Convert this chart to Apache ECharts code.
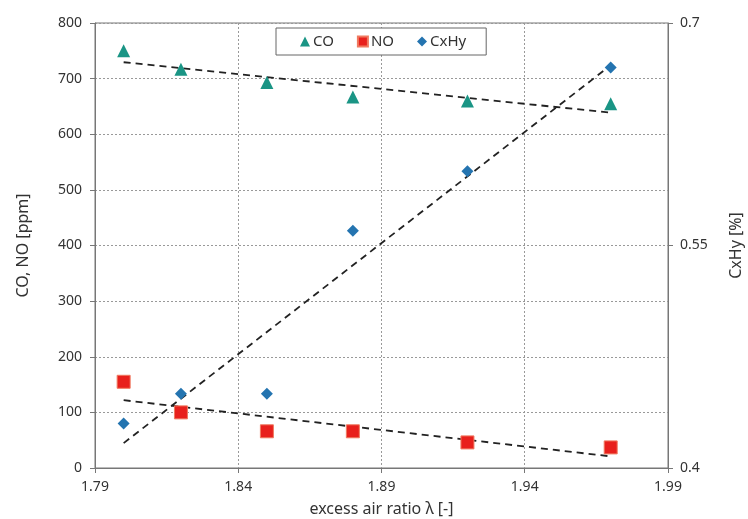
<!DOCTYPE html>
<html>
<head>
<meta charset="utf-8">
<script src="https://cdn.jsdelivr.net/npm/echarts@6/dist/echarts.min.js"></script>
<style>
  html, body { margin: 0; padding: 0; background: #fff; }
  #chart { width: 748px; height: 519px; }
</style>
</head>
<body>
<div id="chart"></div>
<script>
// excess air ratio values
var lambda = [1.80, 1.82, 1.85, 1.88, 1.92, 1.97];
// CO and NO in ppm (left axis), CxHy in % (right axis)
var coVals = [750, 717, 693, 667, 660, 655];
var noVals = [155, 100, 66, 66, 46, 37];
var cxhyVals = [0.43, 0.45, 0.45, 0.56, 0.60, 0.67];

function pairs(xs, ys) {
    return xs.map(function (x, i) { return [x, ys[i]]; });
}

// least squares trend line over the data range
function trend(xs, ys) {
    var n = xs.length, mx = 0, my = 0;
    for (var i = 0; i < n; i++) { mx += xs[i]; my += ys[i]; }
    mx /= n; my /= n;
    var sxy = 0, sxx = 0;
    for (i = 0; i < n; i++) {
        sxy += (xs[i] - mx) * (ys[i] - my);
        sxx += (xs[i] - mx) * (xs[i] - mx);
    }
    var k = sxy / sxx;
    var x0 = xs[0], x1 = xs[n - 1];
    return [[x0, my + k * (x0 - mx)], [x1, my + k * (x1 - mx)]];
}

var chart = echarts.init(document.getElementById('chart'));
var font = 'Noto Sans';
var dash = { color: '#222', width: 1.8, type: [7, 5] };

function trendSeries(ys, axis) {
    return {
        type: 'line', yAxisIndex: axis, data: trend(lambda, ys),
        symbol: 'none', lineStyle: dash, silent: true, z: 1
    };
}

var option = {
    animation: false,
    textStyle: { fontFamily: font, color: '#333' },
    grid: {
        left: 95, right: 80, top: 23, bottom: 51,
        outerBoundsMode: 'none',
        show: true, borderColor: '#777', borderWidth: 1
    },
    legend: {
        data: ['CO', 'NO', 'CxHy'],
        left: 276, top: 28,
        padding: [6, 20, 6, 24],
        borderColor: '#666', borderWidth: 1, backgroundColor: '#fff',
        itemWidth: 10, itemHeight: 10, itemGap: 23,
        textStyle: { fontFamily: font, fontSize: 15, color: '#333', padding: [0, 0, 0, -2] }
    },
    xAxis: {
        type: 'value', min: 1.79, max: 1.99, interval: 0.05,
        name: 'excess air ratio λ [-]', nameLocation: 'middle', nameGap: 33,
        nameTextStyle: { fontSize: 16, color: '#333' },
        axisLine: { show: true, onZero: false, lineStyle: { color: '#777' } },
        axisTick: { show: true, length: 5, lineStyle: { color: '#777' } },
        axisLabel: { fontSize: 14, color: '#333', margin: 12,
            formatter: function (v) { return v.toFixed(2); } },
        splitLine: { show: true, lineStyle: { color: '#999', type: [2, 2] } }
    },
    yAxis: [{
        type: 'value', min: 0, max: 800, interval: 100,
        name: 'CO, NO [ppm]', nameLocation: 'middle', nameGap: 64, nameRotate: 90,
        nameTextStyle: { fontSize: 16, color: '#333' },
        axisLine: { show: true, lineStyle: { color: '#777' } },
        axisTick: { show: true, length: 5, lineStyle: { color: '#777' } },
        axisLabel: { fontSize: 14, color: '#333', margin: 13 },
        splitLine: { show: true, lineStyle: { color: '#999', type: [2, 2] } }
    }, {
        type: 'value', min: 0.4, max: 0.7, interval: 0.15, position: 'right',
        name: 'CxHy [%]', nameLocation: 'middle', nameGap: 60, nameRotate: 90,
        nameTextStyle: { fontSize: 16, color: '#333' },
        axisLine: { show: true, lineStyle: { color: '#777' } },
        axisTick: { show: true, length: 5, lineStyle: { color: '#777' } },
        axisLabel: { fontSize: 14, color: '#333', margin: 12,
            formatter: function (v) { return String(+v.toFixed(2)); } },
        splitLine: { show: false }
    }],
    series: [
        trendSeries(coVals, 0),
        trendSeries(noVals, 0),
        trendSeries(cxhyVals, 1),
        {
            name: 'CO', type: 'scatter', yAxisIndex: 0, data: pairs(lambda, coVals),
            symbol: 'triangle', symbolSize: 13, itemStyle: { color: '#1a9585', opacity: 1 }, z: 3
        },
        {
            name: 'NO', type: 'scatter', yAxisIndex: 0, data: pairs(lambda, noVals),
            symbol: 'rect', symbolSize: 13,
            itemStyle: { color: '#e8201c', borderColor: '#f07a60', borderWidth: 1, opacity: 1 }, z: 3
        },
        {
            name: 'CxHy', type: 'scatter', yAxisIndex: 1, data: pairs(lambda, cxhyVals),
            symbol: 'diamond', symbolSize: 12, itemStyle: { color: '#2474b0', opacity: 1 }, z: 3
        }
    ]
};

chart.setOption(option);
</script>
</body>
</html>
